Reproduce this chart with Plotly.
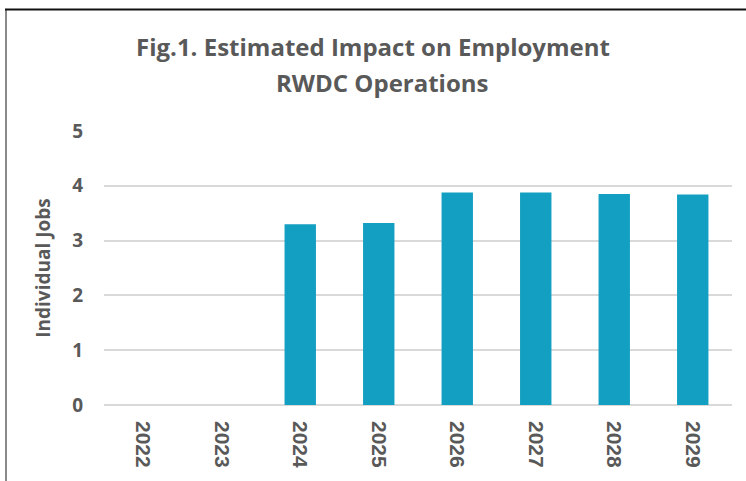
import plotly.graph_objects as go

years = ["2022", "2023", "2024", "2025", "2026", "2027", "2028", "2029"]
jobs = [0, 0, 3.30, 3.32, 3.88, 3.88, 3.85, 3.84]
y_ticks = [0, 1, 2, 3, 4, 5]
title_line1 = "Fig.1. Estimated Impact on Employment"
title_line2 = "RWDC Operations"
y_title = "Individual Jobs"

W, H = 746, 481
L, R, T, B = 104, 14, 131, 76
pw = W - L - R
ph = H - T - B

def px_x(x):
    return (x - L) / pw

def px_y(y):
    return (H - B - y) / ph

GRAY = "#595959"

fig = go.Figure()
fig.add_trace(go.Bar(x=years, y=jobs, marker=dict(color="#139FC1", line=dict(width=0)),
                     hoverinfo="x+y"))

fig.update_layout(
    width=W, height=H,
    margin=dict(l=L, r=R, t=T, b=B, pad=0),
    paper_bgcolor="white", plot_bgcolor="white",
    bargap=0.6,
    showlegend=False,
    xaxis=dict(
        type="category", tickangle=90,
        tickfont=dict(family="Liberation Sans", size=21, color=GRAY, weight="bold"),
        showgrid=False, showline=False, zeroline=False, ticks="",
        ticklabelstandoff=15,
    ),
    yaxis=dict(
        range=[0, 5], tickvals=y_ticks,
        tickfont=dict(family="Open Sans", size=19, color=GRAY, weight="bold"),
        showgrid=True, gridcolor="#D9D9D9", gridwidth=1.5,
        zeroline=True, zerolinecolor="#D9D9D9", zerolinewidth=1.5,
        showline=False, ticks="",
        ticklabelstandoff=20,
        title=dict(text=y_title, font=dict(family="Open Sans", size=19, color=GRAY, weight="bold"),
                   standoff=16),
    ),
    annotations=[
        dict(text=title_line1, xref="paper", yref="paper", x=px_x(373), y=px_y(47),
             xanchor="center", yanchor="middle", showarrow=False,
             font=dict(family="Open Sans", size=24, color=GRAY, weight="bold")),
        dict(text=title_line2, xref="paper", yref="paper", x=px_x(382), y=px_y(82),
             xanchor="center", yanchor="middle", showarrow=False,
             font=dict(family="Open Sans", size=24, color=GRAY, weight="bold")),
    ],
    shapes=[
        dict(type="line", xref="paper", yref="paper", x0=px_x(6), x1=px_x(6),
             y0=px_y(9.5), y1=px_y(481), line=dict(color="#8A8A8A", width=2)),
        dict(type="line", xref="paper", yref="paper", x0=px_x(5), x1=px_x(746),
             y0=px_y(9.5), y1=px_y(9.5), line=dict(color="#111111", width=2)),
    ],
)

fig.write_html("out.html", config={"displayModeBar": False},
               post_script="document.body.style.margin='0';document.body.style.overflow='hidden';")
